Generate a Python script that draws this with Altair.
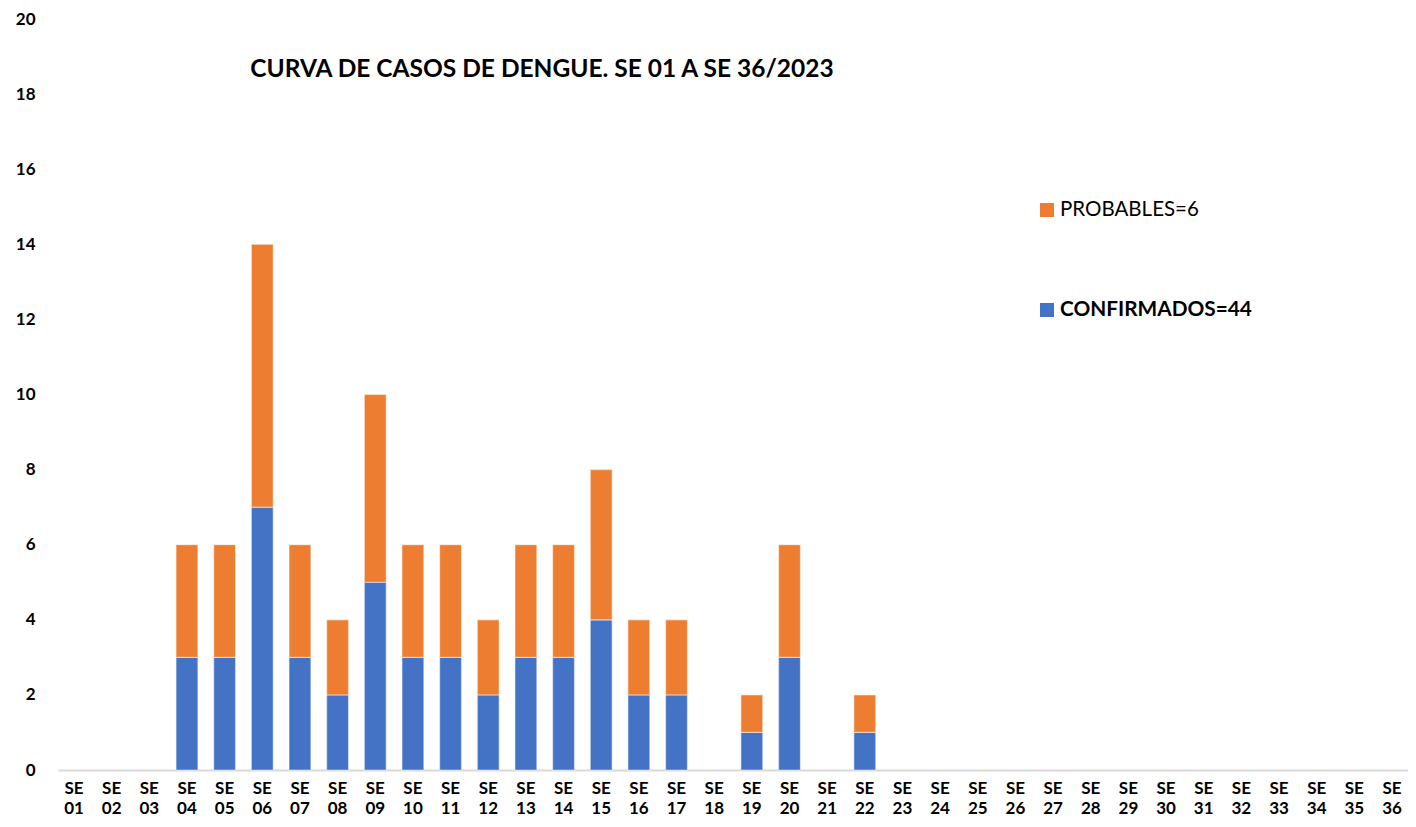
import altair as alt
import pandas as pd

weeks = ["SE %02d" % i for i in range(1, 37)]
confirmados = [0, 0, 0, 3, 3, 7, 3, 2, 5, 3, 3, 2, 3, 3, 4, 2, 2, 0, 1, 3, 0, 1,
               0, 0, 0, 0, 0, 0, 0, 0, 0, 0, 0, 0, 0, 0]
probables = [0, 0, 0, 3, 3, 7, 3, 2, 5, 3, 3, 2, 3, 3, 4, 2, 2, 0, 1, 3, 0, 1,
             0, 0, 0, 0, 0, 0, 0, 0, 0, 0, 0, 0, 0, 0]
series = ["CONFIRMADOS", "PROBABLES"]
legend_labels = ["CONFIRMADOS=44", "PROBABLES=6"]
colors = ["#4472C4", "#ED7D31"]
title_text = "CURVA DE CASOS DE DENGUE. SE 01 A SE 36/2023"

rows = []
for w, c, p in zip(weeks, confirmados, probables):
    rows.append({"week": w, "serie": series[0], "value": c, "ord": 0})
    rows.append({"week": w, "serie": series[1], "value": p, "ord": 1})
df = pd.DataFrame(rows)

FONT = "Lato"

bars = alt.Chart(df).transform_filter("datum.value > 0").mark_bar(
    stroke="#FFFFFF", strokeOpacity=0.45, strokeWidth=1.2).encode(
    x=alt.X("week:N", sort=weeks, title=None,
            scale=alt.Scale(domain=weeks, paddingInner=0.42, paddingOuter=0.135),
            axis=alt.Axis(labelExpr="split(datum.label, ' ')", labelAngle=0,
                          labelFont=FONT, labelFontSize=17, labelFontWeight="bold",
                          labelColor="#000000", labelLineHeight=20,
                          labelBaseline="top", labelPadding=10, ticks=False,
                          domainColor="#D9D9D9", domainWidth=2, grid=False)),
    y=alt.Y("value:Q", stack="zero", title=None,
            scale=alt.Scale(domain=[0, 20]),
            axis=alt.Axis(values=list(range(0, 21, 2)), grid=False, domain=False,
                          ticks=False, labelFont=FONT, labelFontSize=17,
                          labelFontWeight="bold", labelColor="#000000",
                          labelPadding=23)),
    color=alt.Color("serie:N", scale=alt.Scale(domain=series, range=colors), legend=None),
    order=alt.Order("ord:Q"),
)

tdf = pd.DataFrame({"t": [title_text]})
title = alt.Chart(tdf).mark_text(font=FONT, fontSize=24.5, fontWeight="bold",
                                 color="#000000", align="center", baseline="middle").encode(
    x=alt.value(484), y=alt.value(51), text="t:N")

ldf_p = pd.DataFrame({"t": [legend_labels[1]]})
ldf_c = pd.DataFrame({"t": [legend_labels[0]]})
sq_p = alt.Chart(ldf_p).mark_square(size=196, color=colors[1], opacity=1).encode(
    x=alt.value(989), y=alt.value(191))
tx_p = alt.Chart(ldf_p).mark_text(font=FONT, fontSize=20.5, color="#000000",
                                  align="left", baseline="middle").encode(
    x=alt.value(1002), y=alt.value(191), text="t:N")
sq_c = alt.Chart(ldf_c).mark_square(size=196, color=colors[0], opacity=1).encode(
    x=alt.value(989), y=alt.value(291))
tx_c = alt.Chart(ldf_c).mark_text(font=FONT, fontSize=20.8, fontWeight="bold", color="#000000",
                                  align="left", baseline="middle").encode(
    x=alt.value(1002), y=alt.value(291), text="t:N")

chart = alt.layer(bars, title, sq_p, tx_p, sq_c, tx_c).properties(
    width=1350, height=751,
    background="#FFFFFF",
    autosize=alt.AutoSizeParams(type="none"),
    padding={"left": 50, "top": 11, "right": 0, "bottom": 49},
).configure_view(stroke=None)

chart.save("out.html", embed_options={"renderer": "svg", "actions": False})
